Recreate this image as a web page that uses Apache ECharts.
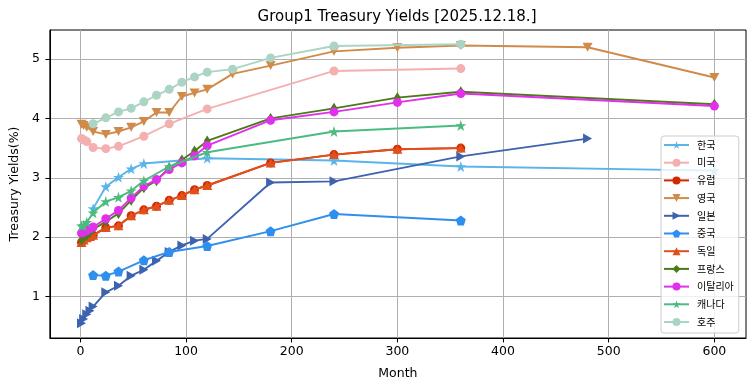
<!DOCTYPE html>
<html><head><meta charset="utf-8">
<script src="https://cdn.jsdelivr.net/npm/echarts@6/dist/echarts.min.js"></script>
<style>html,body{margin:0;padding:0;background:#fff}#c{width:755px;height:391px}</style>
</head><body><div id="c"></div>
<script>
const chartTitle = 'Group1 Treasury Yields [2025.12.18.]';
const xTicks = [0, 100, 200, 300, 400, 500, 600];
const yTicks = [1, 2, 3, 4, 5];
const seriesNames = ['한국', '미국', '유럽', '영국', '일본', '중국', '독일', '프랑스', '이탈리아', '캐나다', '호주'];

const krMonths = [12, 24, 36, 48, 60, 120, 240, 360, 600];
const krYields = [2.48, 2.85, 3.01, 3.15, 3.24, 3.33, 3.29, 3.19, 3.12];
const usMonths = [1, 3, 6, 12, 24, 36, 60, 84, 120, 240, 360];
const usYields = [3.66, 3.64, 3.61, 3.51, 3.49, 3.53, 3.70, 3.91, 4.16, 4.80, 4.84];
const euMonths = [1, 3, 6, 9, 12, 24, 36, 48, 60, 72, 84, 96, 108, 120, 180, 240, 300, 360];
const euYields = [1.91, 1.95, 1.99, 2.01, 2.03, 2.16, 2.19, 2.36, 2.46, 2.52, 2.62, 2.70, 2.80, 2.87, 3.25, 3.39, 3.48, 3.50];
const ukMonths = [1, 3, 6, 12, 24, 36, 48, 60, 72, 84, 96, 108, 120, 144, 180, 240, 300, 360, 480, 600];
const ukYields = [3.90, 3.88, 3.85, 3.78, 3.73, 3.78, 3.85, 3.95, 4.10, 4.10, 4.37, 4.43, 4.49, 4.75, 4.89, 5.13, 5.19, 5.23, 5.20, 4.69];
const jpMonths = [1, 3, 6, 9, 12, 24, 36, 48, 60, 72, 84, 96, 108, 120, 180, 240, 360, 480];
const jpYields = [0.55, 0.62, 0.70, 0.76, 0.83, 1.07, 1.18, 1.35, 1.45, 1.60, 1.75, 1.86, 1.94, 1.97, 2.92, 2.94, 3.36, 3.66];
const cnMonths = [12, 24, 36, 60, 84, 120, 180, 240, 360];
const cnYields = [1.36, 1.35, 1.42, 1.61, 1.75, 1.85, 2.10, 2.39, 2.28];
const deMonths = [1, 3, 6, 9, 12, 24, 36, 48, 60, 72, 84, 96, 108, 120, 180, 240, 300, 360];
const deYields = [1.91, 1.95, 1.99, 2.01, 2.03, 2.16, 2.19, 2.36, 2.46, 2.52, 2.62, 2.70, 2.80, 2.87, 3.25, 3.39, 3.48, 3.50];
const frMonths = [1, 3, 6, 9, 12, 24, 36, 48, 60, 72, 84, 96, 108, 120, 180, 240, 300, 360, 600];
const frYields = [1.95, 1.99, 2.03, 2.08, 2.13, 2.26, 2.40, 2.62, 2.83, 2.95, 3.17, 3.30, 3.45, 3.62, 4.00, 4.17, 4.35, 4.45, 4.24];
const itMonths = [1, 3, 6, 9, 12, 24, 36, 48, 60, 72, 84, 96, 108, 120, 180, 240, 300, 360, 600];
const itYields = [2.07, 2.08, 2.11, 2.14, 2.17, 2.31, 2.45, 2.66, 2.86, 2.97, 3.14, 3.25, 3.37, 3.54, 3.97, 4.11, 4.27, 4.42, 4.21];
const caMonths = [1, 3, 6, 12, 24, 36, 48, 60, 84, 120, 240, 360];
const caYields = [2.19, 2.20, 2.25, 2.41, 2.60, 2.67, 2.78, 2.95, 3.19, 3.43, 3.78, 3.88];
const auMonths = [12, 24, 36, 48, 60, 72, 84, 96, 108, 120, 144, 180, 240, 360];
const auYields = [3.91, 4.01, 4.11, 4.17, 4.28, 4.39, 4.49, 4.61, 4.70, 4.78, 4.83, 5.02, 5.22, 5.25];

const STAR = 'path://M0,-10 L2.245,-3.09 L9.51,-3.09 L3.633,1.18 L5.878,8.09 L0,3.82 L-5.878,8.09 L-3.633,1.18 L-9.51,-3.09 L-2.245,-3.09 Z';
const PENT = 'path://M0,-10 L9.51,-3.09 L5.878,8.09 L-5.878,8.09 L-9.51,-3.09 Z';
const TRI_DOWN = 'path://M-1,-1 L1,-1 L0,1 Z';
const TRI_RIGHT = 'path://M-1,-1 L1,0 L-1,1 Z';

const monthsList = [krMonths, usMonths, euMonths, ukMonths, jpMonths, cnMonths, deMonths, frMonths, itMonths, caMonths, auMonths];
const yieldsList = [krYields, usYields, euYields, ukYields, jpYields, cnYields, deYields, frYields, itYields, caYields, auYields];
const styles = [
  { color: '#5ab4ea', symbol: STAR, size: 11 },
  { color: '#f4b0b0', symbol: 'circle', size: 9 },
  { color: '#d42800', symbol: 'circle', size: 9 },
  { color: '#d08a4a', symbol: TRI_DOWN, size: [10, 9] },
  { color: '#3d63b0', symbol: TRI_RIGHT, size: [9, 10] },
  { color: '#2f8ff0', symbol: PENT, size: 10 },
  { color: '#e0501a', symbol: 'triangle', size: [10, 9] },
  { color: '#4d7a18', symbol: 'diamond', size: [7, 11] },
  { color: '#e030ec', symbol: 'circle', size: 9 },
  { color: '#4cbb80', symbol: STAR, size: 11 },
  { color: '#abd4c4', symbol: 'circle', size: 9 }
];

const series = seriesNames.map((name, i) => ({
  name: name,
  type: 'line',
  data: monthsList[i].map((m, j) => [m, yieldsList[i][j]]),
  symbol: styles[i].symbol,
  symbolSize: styles[i].size,
  symbolKeepAspect: false,
  showSymbol: true,
  lineStyle: { color: styles[i].color, width: 1.9 },
  itemStyle: { color: styles[i].color, borderWidth: 0 },
  emphasis: { disabled: true },
  z: 2 + i * 0.01,
  animation: false
}));

const font = 'DejaVu Sans';
const chart = echarts.init(document.getElementById('c'), null, { renderer: 'canvas' });
chart.setOption({
  animation: false,
  backgroundColor: '#fff',
  graphic: [{
    type: 'text', x: 397, y: 17.5,
    style: { text: chartTitle, font: '15px "DejaVu Sans"', fill: '#000', align: 'center', verticalAlign: 'middle', textAlign: 'center', textVerticalAlign: 'middle' }
  }],
  grid: { left: 48, top: 30, width: 698, height: 308, show: true, borderColor: '#000', borderWidth: 1, backgroundColor: 'transparent', containLabel: false },
  xAxis: {
    type: 'value', min: -28.95, max: 629.95,
    name: 'Month', nameLocation: 'middle', nameGap: 29,
    nameTextStyle: { fontFamily: font, fontSize: 12.5, color: '#000' },
    axisLine: { show: true, onZero: false, lineStyle: { color: '#000', width: 1 } },
    axisTick: { show: true, length: 4.4, customValues: xTicks, lineStyle: { color: '#000', width: 1 } },
    axisLabel: { customValues: xTicks, fontFamily: font, fontSize: 12.5, color: '#000', margin: 7 },
    splitLine: { show: true, lineStyle: { color: '#b0b0b0', width: 1 } }
  },
  yAxis: {
    type: 'value', min: 0.30, max: 5.49,
    name: 'Treasury Yields(%)', nameLocation: 'middle', nameGap: 26, nameRotate: 90,
    nameTextStyle: { fontFamily: font, fontSize: 12.5, color: '#000' },
    axisLine: { show: true, onZero: false, lineStyle: { color: '#000', width: 1 } },
    axisTick: { show: true, length: 4.4, customValues: yTicks, lineStyle: { color: '#000', width: 1 } },
    axisLabel: { customValues: yTicks, fontFamily: font, fontSize: 12.5, color: '#000', margin: 10 },
    splitLine: { show: true, lineStyle: { color: '#b0b0b0', width: 1 } }
  },
  legend: {
    data: seriesNames,
    orient: 'vertical',
    left: 661, top: 136,
    padding: [4, 5, 6, 2],
    itemWidth: 25, itemHeight: 10, itemGap: 7.7,
    backgroundColor: 'rgba(255,255,255,0.8)',
    borderColor: '#cccccc', borderWidth: 1, borderRadius: 3,
    selectedMode: false,
    textStyle: { fontFamily: '"Noto Sans CJK KR"', fontSize: 10, color: '#000', padding: [0, 0, 0, 3] },
    z: 10
  },
  series: series
});
</script>
</body></html>
